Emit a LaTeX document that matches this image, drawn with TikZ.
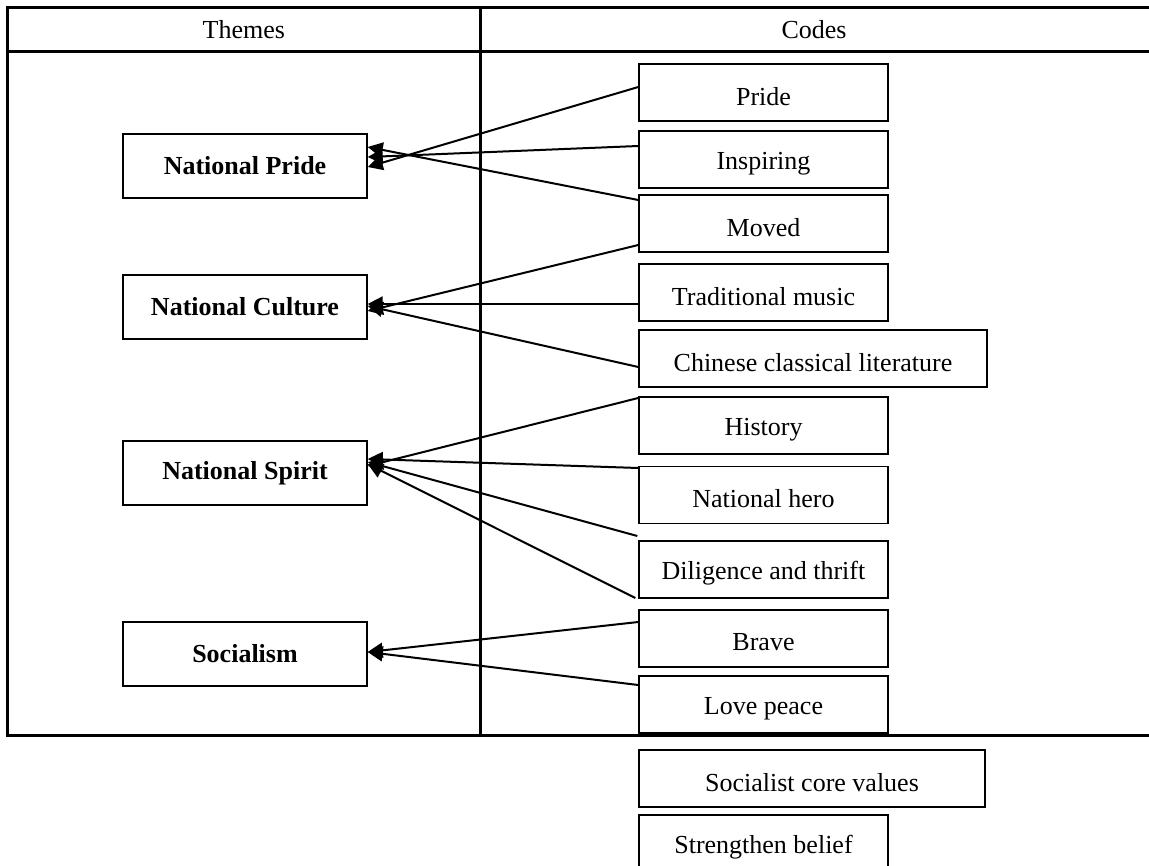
\documentclass[tikz,border=0pt]{standalone}
\usepackage{fontspec}
\setmainfont{Liberation Serif}
\usetikzlibrary{arrows.meta,calc}
\newcommand{\lowtxt}[1]{\raisebox{-4pt}[\height][\depth]{#1}}
\begin{document}
\begin{tikzpicture}[x=1pt,y=-1pt,
  tline/.style={line width=3pt},
  txt/.style={font=\fontsize{26}{30}\selectfont},
  codebox/.style={draw, line width=1.4pt, minimum width=249pt, minimum height=57pt, inner sep=0pt, txt},
  themebox/.style={draw, line width=1.4pt, minimum width=244pt, minimum height=64pt, inner sep=0pt, font=\fontsize{26}{30}\selectfont\bfseries},
  conn/.style={line width=2pt, -{Triangle[length=15pt,width=15pt]}}]
\useasboundingbox (0,0) rectangle (1149,866);
% table
\draw[tline] (7.7,7.3) -- (1149,7.3);
\draw[tline] (7.7,51.7) -- (1149,51.7);
\draw[tline] (6.2,735) -- (1149,735);
\draw[tline] (7.7,5.8) -- (7.7,735);
\draw[tline] (480,5.8) -- (480,735);
\node[txt] (hthemes) at (243.8,29.5) {Themes};
\node[txt] (hcodes) at (814,29.5) {Codes};
% themes
\node[themebox] (npride) at (245,166) {National Pride};
\node[themebox] (nculture) at (245,307) {National Culture};
\node[themebox] (nspirit) at (245,473) {National Spirit};
\node[themebox] (social) at (245,654) {Socialism};
% codes
\node[codebox] (pride) at (763.5,92.5) {\lowtxt{Pride}};
\node[codebox] (inspiring) at (763.5,159.5) {\lowtxt{Inspiring}};
\node[codebox] (moved) at (763.5,223.5) {\lowtxt{Moved}};
\node[codebox] (tradmusic) at (763.5,292.5) {\lowtxt{Traditional music}};
\node[codebox, minimum width=348pt] (chinese) at (813,358.5) {\lowtxt{Chinese classical literature}};
\node[codebox] (history) at (763.5,425.5) {\lowtxt{History}};
\node[codebox] (hero) at (763.5,495) {\lowtxt{National hero}};
\node[codebox] (diligence) at (763.5,569.5) {\lowtxt{Diligence and thrift}};
\node[codebox] (brave) at (763.5,638.5) {\lowtxt{Brave}};
\node[codebox] (lovepeace) at (763.5,704.5) {\lowtxt{Love peace}};
\node[codebox, minimum width=346pt] (corevalues) at (812,778.5) {\lowtxt{Socialist core values}};
\node[codebox] (belief) at (763.5,843.5) {\lowtxt{Strengthen belief}};
% connectors
\draw[conn] ([yshift=5.5pt]pride.west) -- ([yshift=-1pt]npride.east);
\draw[conn] ([yshift=13.5pt]inspiring.west) -- ([yshift=9pt]npride.east);
\draw[conn] ([yshift=23.5pt]moved.west) -- ([yshift=19pt]npride.east);
\draw[conn] ([yshift=-21.5pt]moved.west) -- ([yshift=-4pt]nculture.east);
\draw[conn] ([yshift=-11.5pt]tradmusic.west) -- ([yshift=3pt]nculture.east);
\draw[conn] ([yshift=-8.5pt]chinese.west) -- ([yshift=1pt]nculture.east);
\draw[conn] ([yshift=27.5pt]history.west) -- ([yshift=7pt]nspirit.east);
\draw[conn] ([yshift=27pt]hero.west) -- ([yshift=14pt]nspirit.east);
\draw[conn] ([xshift=-1pt,yshift=33.5pt]diligence.west) -- ([yshift=11pt]nspirit.east);
\draw[conn] ([xshift=-3pt,yshift=-28.5pt]diligence.west) -- ([yshift=9pt]nspirit.east);
\draw[conn] ([yshift=16.5pt]brave.west) -- ([yshift=2pt]social.east);
\draw[conn] ([yshift=19.5pt]lovepeace.west) -- ([yshift=2pt]social.east);
\end{tikzpicture}
\end{document}
